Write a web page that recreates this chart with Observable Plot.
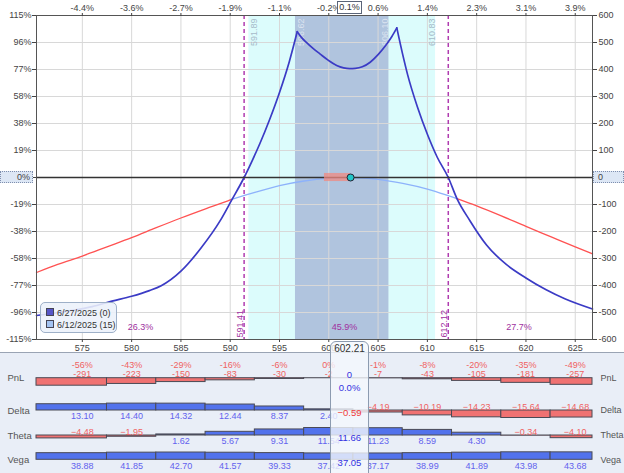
<!DOCTYPE html>
<html><head><meta charset="utf-8">
<script src="https://cdn.jsdelivr.net/npm/d3@7"></script>
<script src="https://cdn.jsdelivr.net/npm/@observablehq/plot@0.6"></script>
<style>
body{margin:0;background:#fff;font-family:"Liberation Sans",Arial,sans-serif;}
#wrap{position:relative;width:624px;height:473px;overflow:hidden;background:#fff;}
#panel{background:#e9eef7;border-top:1px solid #9aa4b4;}
#panel svg, #main svg{display:block;}
.ov{position:absolute;box-sizing:border-box;font-size:9px;line-height:10px;color:#333;}
</style></head><body><div id="wrap"><div id="main"></div><div id="panel"></div></div>
<script>
// ---------- data ----------
const priceTicks = [575, 580, 585, 590, 595, 600, 605, 610, 615, 620, 625];
const pctTickLabels = ["-4.4%", "-3.6%", "-2.7%", "-1.9%", "-1.1%", "-0.2%", "0.6%", "1.4%", "2.3%", "3.1%", "3.9%"];
const currentPrice = 602.21;
const currentPctLabel = "0.1%";
const yTicks = [-600, -500, -400, -300, -200, -100, 0, 100, 200, 300, 400, 500, 600];
const yPctLabels = ["-115%", "-96%", "-77%", "-58%", "-38%", "-19%", "0%", "19%", "38%", "58%", "77%", "96%", "115%"];

// expiration P&L (6/27/2025)
const expPrice = [570.35, 572, 574, 576, 578, 580, 581.8, 583, 585, 587, 589, 590.13, 591.41, 592.2, 593, 594, 595, 596, 596.8,
  597.2, 597.7, 598.4, 599.1, 600, 600.8, 601.5, 602.1, 602.7, 603.4, 604.2, 605, 605.9, 606.4, 606.9,
  607.5, 608, 609, 610, 611, 612.12, 613, 614.3, 616, 618, 620, 622, 624, 626.75];
const expPnl = [-511, -503, -492, -478, -458, -440, -419, -401, -347, -263, -159, -85, 0, 60, 125, 215, 315, 430, 540,
  520, 501, 478, 458, 433, 415, 406, 403, 404, 410, 427, 455, 495, 522, 554,
  455, 380, 260, 160, 75, 0, -78, -159, -250, -322, -372, -415, -450, -487];
const expKinks = [596.8, 606.9];

// T+0 P&L (6/12/2025)
const t0Price = [570.35, 572.5, 575, 577.5, 580, 582.5, 585, 587.5, 590, 590.13, 592.5, 595, 597.5, 600, 602.21, 605, 607.5, 610, 612.5, 613, 615, 617.5, 620, 622.5, 625, 626.75];
const t0Pnl = [-352, -322, -291, -257, -223, -186, -150, -116, -83, -81, -55, -30, -13, -3, 0, -7, -22, -43, -72, -78, -105, -142, -181, -219, -257, -283];
const t0Cross = [590.13, 613];

const breakevens = [591.41, 612.12];
const sdRange = [591.89, 610.83];
const halfSdRange = [596.62, 606.10];
const probLabels = ["26.3%", "45.9%", "27.7%"];
const probX = [580.9, 601.6, 619.3];
const todayMove = [599.56, 602.21];
const todayBand = [-15, 15];

const legendLabels = ["6/27/2025 (0)", "6/12/2025 (15)"];

// greeks table
const colCenters = [575, 580, 585, 590, 595, 600, 605, 610, 615, 620, 625];
const pnlPct = ["-56%", "-43%", "-29%", "-16%", "-6%", "0%", "-1%", "-8%", "-20%", "-35%", "-49%"];
const pnlVal = [-291, -223, -150, -83, -30, -2, -7, -43, -105, -181, -257];
const deltaVal = [13.10, 14.40, 14.32, 12.44, 8.37, 2.40, -4.19, -10.19, -14.23, -15.64, -14.68];
const thetaVal = [-4.48, -1.95, 1.62, 5.67, 9.31, 11.54, 11.23, 8.59, 4.30, -0.34, -4.10];
const vegaVal = [38.88, 41.85, 42.70, 41.57, 39.33, 37.42, 37.17, 38.99, 41.89, 43.98, 43.68];
const currentStats = {pnl: "0", pnlPct: "0.0%", delta: -0.59, theta: 11.66, vega: 37.05};

// ---------- layout ----------
const W = 624, ML = 36, MR = 32;
const xDomain = [570.35, 626.75];
const FONT = "'Liberation Sans', Arial, sans-serif";
const RED = "#f07272", BLUE = "#5272ec", TXTRED = "#f06262", TXTBLUE = "#6262ee";

// build line tables
const expRows = [];
expPrice.forEach((p, i) => {
  const seg = expKinks.filter(k => p > k).length;
  expRows.push({x: p, y: expPnl[i], seg});
  if (expKinks.includes(p)) expRows.push({x: p, y: expPnl[i], seg: seg + 1});
});
const t0Rows = [];
t0Price.forEach((p, i) => {
  const seg = t0Cross.filter(k => p > k).length;
  t0Rows.push({x: p, y: t0Pnl[i], seg});
  if (t0Cross.includes(p)) t0Rows.push({x: p, y: t0Pnl[i], seg: seg + 1});
});

const regionLabels = [
  {x: sdRange[0], t: sdRange[0].toFixed(2), side: "r", c: "#a6bac9"},
  {x: halfSdRange[0], t: halfSdRange[0].toFixed(2), side: "r", c: "#dbe3f0"},
  {x: halfSdRange[1], t: halfSdRange[1].toFixed(2), side: "l", c: "#dbe3f0"},
  {x: sdRange[1], t: sdRange[1].toFixed(2), side: "l", c: "#a6bac9"}
];

const main = Plot.plot({
  width: W, height: 352, marginLeft: ML, marginRight: MR, marginTop: 15, marginBottom: 13,
  x: {domain: xDomain, label: null},
  y: {domain: [-600, 600], label: null},
  color: {type: "identity"},
  style: {fontFamily: FONT, fontSize: "9px", color: "#444", background: "#fff", overflow: "visible"},
  marks: [
    Plot.rect([sdRange], {x1: d => d[0], x2: d => d[1], fill: "#dcfcfc"}),
    Plot.rect([halfSdRange], {x1: d => d[0], x2: d => d[1], fill: "#b0c4de"}),
    Plot.gridX(priceTicks, {stroke: "#d8d8d8", strokeOpacity: 1}),
    Plot.gridY(yTicks, {stroke: "#d8d8d8", strokeOpacity: 1}),
    Plot.text(regionLabels.filter(d => d.side === "r"), {x: "x", text: "t", frameAnchor: "top", rotate: -90, textAnchor: "end", lineAnchor: "top", dx: 2, dy: 3, fill: "c", fontSize: 9}),
    Plot.text(regionLabels.filter(d => d.side === "l"), {x: "x", text: "t", frameAnchor: "top", rotate: -90, textAnchor: "end", lineAnchor: "bottom", dx: -1, dy: 3, fill: "c", fontSize: 9}),
    Plot.ruleX(breakevens, {stroke: "#b03cb0", strokeWidth: 1.5, strokeDasharray: "4,3"}),
    Plot.text(breakevens, {x: d => d, text: d => d.toFixed(2), frameAnchor: "bottom", rotate: -90, textAnchor: "start", lineAnchor: "bottom", dx: -1, dy: -2, fill: "#a030a0", fontSize: 9}),
    Plot.text(probLabels, {x: (d, i) => probX[i], text: d => d, frameAnchor: "bottom", dy: -10, fill: "#a030a0", fontSize: 9}),
    Plot.line(t0Rows, {x: "x", y: "y", z: "seg", stroke: d => d.seg === 1 ? "#8db2fb" : "#ff5252", strokeWidth: 1.3, curve: "monotone-x"}),
    Plot.line(expRows, {x: "x", y: "y", z: "seg", stroke: "#3b3bc5", strokeWidth: 1.7, curve: "monotone-x"}),
    Plot.ruleY([0], {stroke: "#333", strokeWidth: 1.5}),
    Plot.rect([todayMove], {x1: d => d[0], x2: d => d[1], y1: todayBand[0], y2: todayBand[1], fill: "#f08a80", fillOpacity: 0.75}),
    Plot.dot([currentPrice], {x: d => d, y: 0, r: 3.5, fill: "#22c6c8", stroke: "#223", strokeWidth: 1}),
    Plot.frame({stroke: "#555"}),
    Plot.axisX({anchor: "bottom", ticks: priceTicks, tickSize: 3, tickPadding: 2, label: null, color: "#444", fontSize: 9}),
    Plot.axisX({anchor: "top", ticks: priceTicks, tickSize: 3, tickPadding: 2, label: null, color: "#444", fontSize: 9,
      tickFormat: d => pctTickLabels[priceTicks.indexOf(d)]}),
    Plot.axisY({anchor: "left", ticks: yTicks, tickSize: 4, tickPadding: 1, label: null, color: "#444", fontSize: 9,
      tickFormat: d => d === 0 ? "" : yPctLabels[yTicks.indexOf(d)]}),
    Plot.axisY({anchor: "right", ticks: yTicks, tickSize: 4, tickPadding: 2, label: null, color: "#444", fontSize: 9,
      tickFormat: d => d === 0 ? "" : String(d)})
  ]
});
document.getElementById("main").appendChild(main);

// ---------- greeks rows ----------
const nCol = colCenters.length;
function colTable(values) {
  return colCenters.map((c, i) => ({
    c, v: values[i],
    x1: i === 0 ? xDomain[0] : c - 2.5,
    x2: i === nCol - 1 ? xDomain[1] : c + 2.5
  }));
}
const fmt2 = d3.format(".2f");
function rowPlot({name, values, height, base, labelMarks}) {
  const maxAbs = d3.max(values, Math.abs);
  const pxPer = 7.5 / maxAbs;
  const table = colTable(values);
  return Plot.plot({
    width: W, height, marginLeft: ML, marginRight: MR, marginTop: 0, marginBottom: 0,
    x: {domain: xDomain, axis: null},
    y: {domain: [-(height - base) / pxPer, base / pxPer], axis: null},
    color: {type: "identity"},
    style: {fontFamily: FONT, fontSize: "9px", background: "transparent", overflow: "visible"},
    marks: [
      Plot.rect(table, {x1: "x1", x2: "x2", y1: 0, y2: "v", fill: d => d.v < 0 ? RED : BLUE, stroke: "#4a4a55", strokeWidth: 1}),
      ...labelMarks(table),
      Plot.axisY({anchor: "left", ticks: [0], tickSize: 0, tickPadding: ML - 7, textAnchor: "start", tickFormat: () => name, color: "#555", fontSize: 9.5, label: null}),
      Plot.axisY({anchor: "right", ticks: [0], tickSize: 0, tickPadding: 8, tickFormat: () => name, color: "#555", fontSize: 9, label: null})
    ]
  });
}
function signLabels(table) {
  return [
    Plot.text(table.filter(d => d.v >= 0), {x: "c", y: 0, text: d => fmt2(d.v), dy: 6, fill: TXTBLUE, fontSize: 9}),
    Plot.text(table.filter(d => d.v < 0), {x: "c", y: 0, text: d => fmt2(d.v), dy: -3, fill: TXTRED, fontSize: 9})
  ];
}
const panel = document.getElementById("panel");
panel.appendChild(rowPlot({name: "PnL", values: pnlVal, height: 41, base: 24.7, labelMarks: table => [
  Plot.text(table, {x: "c", y: 0, text: (d, i) => pnlPct[i], dy: -13.3, fill: d => d.v < 0 ? TXTRED : TXTBLUE, fontSize: 9}),
  Plot.text(table, {x: "c", y: 0, text: d => String(d.v), dy: -4.3, fill: d => d.v < 0 ? TXTRED : TXTBLUE, fontSize: 9})
]}));
panel.appendChild(rowPlot({name: "Delta", values: deltaVal, height: 28, base: 16, labelMarks: signLabels}));
panel.appendChild(rowPlot({name: "Theta", values: thetaVal, height: 25, base: 13, labelMarks: signLabels}));
panel.appendChild(rowPlot({name: "Vega", values: vegaVal, height: 26, base: 12.3, labelMarks: signLabels}));

// ---------- overlays ----------
const wrap = document.getElementById("wrap");
function ov(style, html) {
  const d = document.createElement("div");
  d.className = "ov";
  d.style.cssText = style;
  d.innerHTML = html || "";
  wrap.appendChild(d);
  return d;
}
// zero boxes on y axes
ov("left:0;top:171px;width:33px;height:12px;border:1px dotted #7f8fae;background:#dde7f5;text-align:right;padding-right:2px;line-height:10px;color:#444;", yPctLabels[yTicks.indexOf(0)]);
ov("left:593px;top:171px;width:31px;height:12px;border:1px dotted #7f8fae;background:#dde7f5;padding-left:4px;line-height:10px;color:#444;", String(0));
// current pct box on top axis
ov("left:337px;top:1px;width:25px;height:13px;border:1px solid #5a6478;background:#fff;text-align:center;line-height:11px;color:#333;", currentPctLabel);
// current price column box
const box = ov("left:330px;top:341px;width:39px;height:140px;border:1px solid #8c9bb0;border-radius:6px;background:rgba(244,247,252,0.8);text-align:center;");
const boxItems = [
  {t: currentPrice.toFixed(2), top: 2, c: "#333"},
  {t: currentStats.pnl, top: 28, c: "#3232e0"},
  {t: currentStats.pnlPct, top: 41, c: "#3232e0"},
  {t: fmt2(currentStats.delta), top: 65.5, c: currentStats.delta < 0 ? "#f03a3a" : "#3232e0"},
  {t: fmt2(currentStats.theta), top: 90.5, c: "#3232e0"},
  {t: fmt2(currentStats.vega), top: 116, c: "#3232e0"}
];
boxItems.forEach(b => {
  const s = document.createElement("div");
  s.style.cssText = `position:absolute;left:0;width:100%;top:${b.top}px;color:${b.c};font-size:${b.top === 2 ? 10 : 9.5}px;line-height:10px;`;
  s.textContent = b.t;
  box.appendChild(s);
});
// legend
const legColors = ["#5656c8", "#a3c3f2"];
const leg = ov("left:40px;top:302px;width:77px;height:31px;border:1px solid #9eb0c8;border-radius:5px;background:rgba(236,241,250,0.88);");
legendLabels.forEach((l, i) => {
  const r = document.createElement("div");
  r.style.cssText = `position:absolute;left:5px;top:${5 + i * 11.5}px;white-space:nowrap;font-size:9px;line-height:10px;color:#333;`;
  r.innerHTML = `<span style="display:inline-block;width:6px;height:6px;background:${legColors[i]};border:1px solid #445;margin-right:3px;vertical-align:0px"></span>${l}`;
  leg.appendChild(r);
});
</script>
</body></html>
